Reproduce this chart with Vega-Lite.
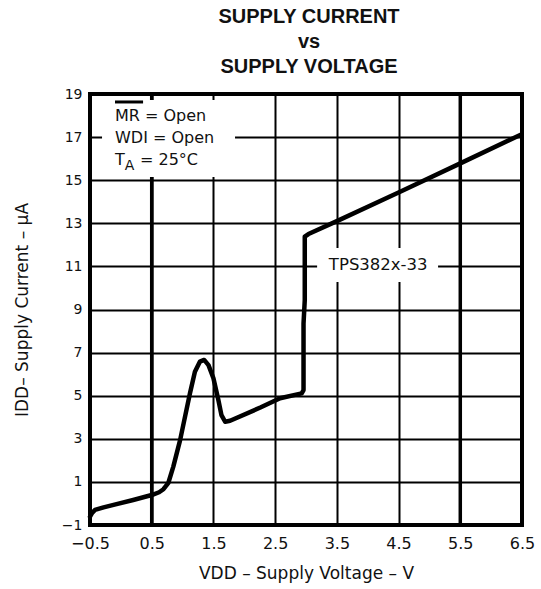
{
  "$schema": "https://vega.github.io/schema/vega-lite/v6.json",
  "width": 432,
  "height": 431,
  "autosize": "none",
  "padding": {"left": 90, "top": 94, "right": 19, "bottom": 64},
  "background": "white",
  "title": {
    "text": ["SUPPLY CURRENT", "vs", "SUPPLY VOLTAGE"],
    "font": "Liberation Sans",
    "fontSize": 20,
    "fontWeight": "bold",
    "lineHeight": 25,
    "anchor": "middle",
    "frame": "group",
    "baseline": "bottom",
    "offset": -10,
    "dx": 3,
    "color": "#111"
  },
  "config": {
    "view": {"stroke": "black", "strokeWidth": 4},
    "axis": {
      "grid": true,
      "gridColor": "black",
      "gridWidth": 2,
      "gridOpacity": 1,
      "ticks": false,
      "domain": false,
      "labelFont": "DejaVu Sans",
      "labelColor": "#111",
      "labelFlush": false,
      "labelOverlap": false,
      "titleFont": "DejaVu Sans",
      "titleFontWeight": "normal",
      "titleFontSize": 17,
      "titleColor": "#111"
    }
  },
  "datasets": {
    "curve": [
      {"v": -0.5, "i": -0.61}, {"v": -0.47, "i": -0.46}, {"v": -0.42, "i": -0.3},
      {"v": -0.28, "i": -0.18}, {"v": -0.07, "i": -0.03}, {"v": 0.2, "i": 0.16},
      {"v": 0.5, "i": 0.39}, {"v": 0.62, "i": 0.52}, {"v": 0.69, "i": 0.66},
      {"v": 0.77, "i": 0.96}, {"v": 0.85, "i": 1.71}, {"v": 0.96, "i": 2.94},
      {"v": 1.04, "i": 4.03}, {"v": 1.12, "i": 5.11}, {"v": 1.2, "i": 6.11},
      {"v": 1.28, "i": 6.58}, {"v": 1.35, "i": 6.66}, {"v": 1.42, "i": 6.42},
      {"v": 1.5, "i": 5.81}, {"v": 1.58, "i": 4.8}, {"v": 1.63, "i": 4.1},
      {"v": 1.69, "i": 3.79}, {"v": 1.77, "i": 3.84}, {"v": 2.26, "i": 4.45},
      {"v": 2.58, "i": 4.88}, {"v": 2.93, "i": 5.11}, {"v": 2.96, "i": 5.26},
      {"v": 2.96, "i": 8.36}, {"v": 2.98, "i": 9.44}, {"v": 2.98, "i": 12.38},
      {"v": 3.04, "i": 12.5}, {"v": 3.5, "i": 13.1}, {"v": 4.5, "i": 14.43},
      {"v": 5.5, "i": 15.78}, {"v": 6.47, "i": 17.1}
    ],
    "thick": [
      {"v": 0.5, "i": -1, "i2": 19},
      {"v": 5.5, "i": -1, "i2": 19}
    ],
    "masks": [
      {"v": -0.305, "v2": 1.85, "i": 18.72, "i2": 15.15},
      {"v": 3.18, "v2": 5.14, "i": 11.85, "i2": 10.28}
    ],
    "overline": [
      {"v": -0.095, "v2": 0.36, "i": 18.63}
    ],
    "notes": [
      {"v": -0.095, "i": 17.75, "label": "MR = Open"},
      {"v": -0.095, "i": 16.73, "label": "WDI = Open"},
      {"v": -0.095, "i": 15.7, "label": "T"},
      {"v": 0.31, "i": 15.7, "label": "= 25°C"}
    ],
    "sub": [
      {"v": 0.065, "i": 15.47, "label": "A"}
    ],
    "tag": [
      {"v": 4.17, "i": 11.06, "label": "TPS382x-33"}
    ]
  },
  "encoding": {
    "x": {
      "field": "v",
      "type": "quantitative",
      "scale": {"domain": [-0.5, 6.5], "nice": false, "zero": false},
      "axis": {
        "values": [-0.5, 0.5, 1.5, 2.5, 3.5, 4.5, 5.5, 6.5],
        "format": ".1f",
        "labelFontSize": 16,
        "labelPadding": 10,
        "title": "VDD – Supply Voltage – V",
        "titlePadding": 14
      }
    },
    "y": {
      "field": "i",
      "type": "quantitative",
      "scale": {"domain": [-1, 19], "nice": false, "zero": false},
      "axis": {
        "values": [-1, 1, 3, 5, 7, 9, 11, 13, 15, 17, 19],
        "format": "d",
        "labelFontSize": 14,
        "labelPadding": 8,
        "title": "IDD– Supply Current – µA",
        "titlePadding": 30
      }
    }
  },
  "layer": [
    {
      "data": {"name": "thick"},
      "mark": {"type": "rule", "color": "black", "strokeWidth": 3.5},
      "encoding": {"y2": {"field": "i2"}}
    },
    {
      "data": {"name": "masks"},
      "mark": {"type": "rect", "color": "white", "opacity": 1},
      "encoding": {"x2": {"field": "v2"}, "y2": {"field": "i2"}}
    },
    {
      "data": {"name": "curve"},
      "mark": {"type": "line", "color": "black", "strokeWidth": 4.5, "strokeJoin": "round", "strokeCap": "round"},
      "encoding": {"order": {"value": null}}
    },
    {
      "data": {"name": "overline"},
      "mark": {"type": "rule", "color": "black", "strokeWidth": 3},
      "encoding": {"x2": {"field": "v2"}}
    },
    {
      "data": {"name": "notes"},
      "mark": {"type": "text", "align": "left", "baseline": "alphabetic", "font": "DejaVu Sans", "fontSize": 16, "color": "#111"},
      "encoding": {"text": {"field": "label"}}
    },
    {
      "data": {"name": "sub"},
      "mark": {"type": "text", "align": "left", "baseline": "alphabetic", "font": "DejaVu Sans", "fontSize": 14, "color": "#111"},
      "encoding": {"text": {"field": "label"}}
    },
    {
      "data": {"name": "tag"},
      "mark": {"type": "text", "align": "center", "baseline": "middle", "font": "DejaVu Sans", "fontSize": 16.5, "color": "#111"},
      "encoding": {"text": {"field": "label"}}
    }
  ]
}
